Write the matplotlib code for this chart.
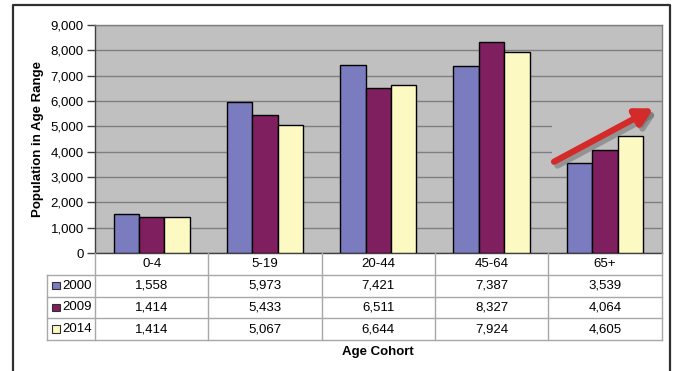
import matplotlib
matplotlib.use("Agg")
import matplotlib.pyplot as plt
import numpy as np
from matplotlib.patches import Rectangle
from matplotlib.lines import Line2D

plt.rcParams['font.family'] = ['Liberation Sans', 'DejaVu Sans']

categories = ["0-4", "5-19", "20-44", "45-64", "65+"]
series_names = ["2000", "2009", "2014"]
values_2000 = [1558, 5973, 7421, 7387, 3539]
values_2009 = [1414, 5433, 6511, 8327, 4064]
values_2014 = [1414, 5067, 6644, 7924, 4605]
series_values = [values_2000, values_2009, values_2014]
colors = ["#7B7BC0", "#7F1F5F", "#FDF9C3"]
y_ticks = [0, 1000, 2000, 3000, 4000, 5000, 6000, 7000, 8000, 9000]

FS = 9.5
W, H = 675, 371
fig = plt.figure(figsize=(W / 100, H / 100), dpi=100)

def fx(px):
    return px / W

def fy(py):
    return 1 - py / H

# outer frame
fig.add_artist(Line2D([fx(13), fx(13), fx(670), fx(670)], [fy(372), fy(5), fy(5), fy(372)],
                      color="#303030", lw=1.6, transform=fig.transFigure))

L, R, T, B = 95, 661.5, 25, 253
ax = fig.add_axes([fx(L), fy(B), fx(R - L), (B - T) / H])
ax.set_facecolor("#C0C0C0")
ax.set_xlim(-0.5, len(categories) - 0.5)
ax.set_ylim(0, 9000)
ax.set_yticks(y_ticks)
ax.set_yticklabels([f"{v:,}" for v in y_ticks], fontsize=FS)
ax.set_xticks([])
ax.yaxis.grid(True, color="#7F7F7F", lw=1.0, zorder=0)
ax.set_axisbelow(True)
for s in ["top", "right"]:
    ax.spines[s].set_color("#7F7F7F")
    ax.spines[s].set_linewidth(1.0)
for s in ["left", "bottom"]:
    ax.spines[s].set_color("#404040")
    ax.spines[s].set_linewidth(1.0)
ax.tick_params(axis="y", length=6, width=1, color="#404040", pad=2)

# background patch of the arrow picture hiding some gridlines
ax.add_patch(Rectangle((3.53, 3150), 0.97, 2600, facecolor="#C0C0C0", edgecolor="none", zorder=1.5))

x = np.arange(len(categories))
bw = 0.224
for i, (vals, c) in enumerate(zip(series_values, colors)):
    ax.bar(x + (i - 1) * bw, vals, width=bw, color=c, edgecolor="black", linewidth=1.0, zorder=3)

ax.set_ylabel("Population in Age Range", fontsize=FS, fontweight="bold", labelpad=5)

# red arrow with shadow
arrow_start = (3.53, 3550)
arrow_end = (4.45, 5760)
style = "-|>,head_length=1.0,head_width=0.55"
ax.annotate("", xy=(arrow_end[0] + 0.03, arrow_end[1] - 150), xytext=(arrow_start[0] + 0.03, arrow_start[1] - 150),
            arrowprops=dict(arrowstyle=style, lw=4.5, color="#6E6E6E", alpha=0.55),
            zorder=4)
ax.annotate("", xy=arrow_end, xytext=arrow_start,
            arrowprops=dict(arrowstyle=style, lw=4.5, color="#D42A2A"),
            zorder=5)

# data table
TL, TB = 47, 340
tax = fig.add_axes([fx(TL), fy(TB), fx(R - TL), (TB - B) / H])
tax.set_xlim(-0.5 - (L - TL) / ((R - L) / len(categories)), len(categories) - 0.5)
tax.set_ylim(4, 0)
tax.axis("off")
lc = "#A8A8A8"
xl = tax.get_xlim()[0]
for r in [1, 2, 3, 4]:
    tax.plot([xl, 4.5], [r, r], color=lc, lw=1.0, clip_on=False)
for b in np.arange(-0.5, 4.6, 1.0):
    tax.plot([b, b], [0, 4], color=lc, lw=1.0, clip_on=False)
tax.plot([xl, xl], [1, 4], color=lc, lw=1.0, clip_on=False)
for j, cat in enumerate(categories):
    tax.text(j, 0.5, cat, ha="center", va="center", fontsize=FS)
for i, (name, vals, c) in enumerate(zip(series_names, series_values, colors)):
    row = i + 1.5
    tax.add_patch(Rectangle((xl + 0.045, row - 0.17), 0.07, 0.34, facecolor=c, edgecolor="#303030",
                            lw=0.8, clip_on=False))
    tax.text(xl + 0.135, row, name, ha="left", va="center", fontsize=FS)
    for j, v in enumerate(vals):
        tax.text(j, row, f"{v:,}", ha="center", va="center", fontsize=FS)

fig.text(fx(378), fy(352), "Age Cohort", ha="center", va="center", fontsize=FS, fontweight="bold")

fig.savefig("out.png", dpi=100)
